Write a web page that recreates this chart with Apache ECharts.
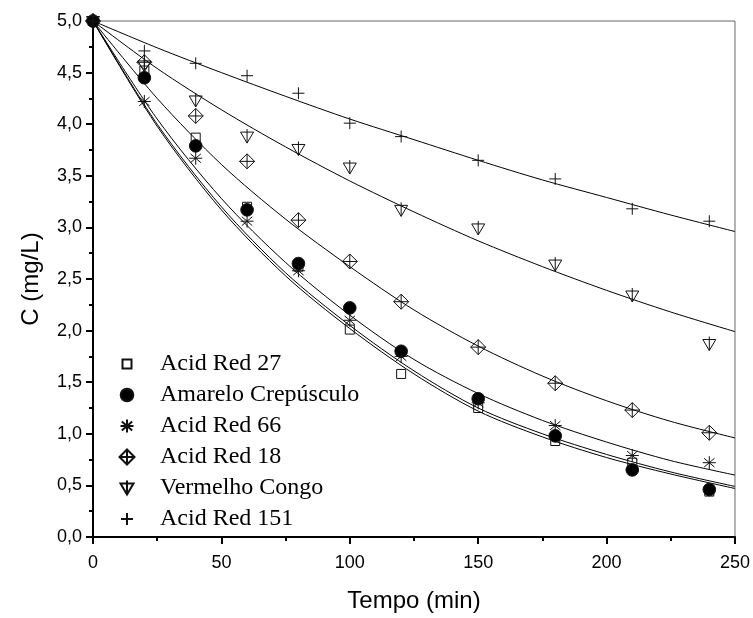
<!DOCTYPE html>
<html>
<head>
<meta charset="utf-8">
<script src="https://cdn.jsdelivr.net/npm/echarts@6/dist/echarts.min.js"></script>
<style>
  html, body { margin: 0; padding: 0; background: #fff; }
  #chart { width: 753px; height: 618px; }
</style>
</head>
<body>
<div id="chart"></div>
<script>
// Sampling times (min) of the measured concentrations
const times = [0, 20, 40, 60, 80, 100, 120, 150, 180, 210, 240];

// Measured concentrations (mg/L)
const acidRed27   = [5.00, 4.52, 3.87, 3.20, 2.62, 2.01, 1.58, 1.25, 0.93, 0.72, 0.44];
const amarelo     = [5.00, 4.45, 3.79, 3.17, 2.65, 2.22, 1.80, 1.34, 0.98, 0.65, 0.46];
const acidRed66   = [5.00, 4.22, 3.67, 3.06, 2.58, 2.10, 1.75, 1.30, 1.08, 0.79, 0.72];
const acidRed18   = [5.00, 4.60, 4.08, 3.64, 3.07, 2.67, 2.28, 1.84, 1.49, 1.23, 1.01];
const congo       = [5.00, 4.57, 4.23, 3.88, 3.76, 3.58, 3.17, 2.99, 2.64, 2.34, 1.87];
const acidRed151  = [5.00, 4.71, 4.59, 4.47, 4.30, 4.01, 3.88, 3.65, 3.47, 3.18, 3.06];

// Fitted decay curves, sampled every 25 min
const fitTimes = [0, 25, 50, 75, 100, 125, 150, 175, 200, 225, 250];
const fitAcidRed27  = [5.00, 3.98, 3.17, 2.53, 2.02, 1.58, 1.22, 0.97, 0.77, 0.61, 0.47];
const fitAmarelo    = [5.00, 4.00, 3.20, 2.56, 2.05, 1.61, 1.25, 1.00, 0.80, 0.63, 0.49];
const fitAcidRed66  = [5.00, 4.05, 3.28, 2.66, 2.15, 1.72, 1.39, 1.13, 0.92, 0.74, 0.60];
const fitAcidRed18  = [5.00, 4.25, 3.61, 3.08, 2.62, 2.20, 1.85, 1.56, 1.32, 1.12, 0.96];
const fitCongo      = [5.00, 4.54, 4.14, 3.78, 3.45, 3.15, 2.87, 2.62, 2.39, 2.18, 1.99];
const fitAcidRed151 = [5.00, 4.74, 4.50, 4.27, 4.05, 3.85, 3.65, 3.46, 3.29, 3.12, 2.96];

const seriesNames = ['Acid Red 27', 'Amarelo Crepúsculo', 'Acid Red 66',
                     'Acid Red 18', 'Vermelho Congo', 'Acid Red 151'];

const xTicks = { min: 0, max: 250, step: 50 };
const yTicks = { min: 0, max: 5, step: 0.5 };

// Marker outlines drawn in a shared 16x16 frame so every symbol keeps its own size
const FRAME = ' M0 0 M16 16';
const symbols = [
  'path://M3.5 3.5 L12.5 3.5 L12.5 12.5 L3.5 12.5 Z' + FRAME,
  'path://M1.7 8 A6.3 6.3 0 1 0 14.3 8 A6.3 6.3 0 1 0 1.7 8 Z' + FRAME,
  'path://M8 1.5 L8 14.5 M1.5 8 L14.5 8 M2.8 3.6 L13.2 12.4 M2.8 12.4 L13.2 3.6' + FRAME,
  'path://M8 0.5 L15.5 8 L8 15.5 L0.5 8 Z M8 0.5 L8 15.5 M0.5 8 L15.5 8' + FRAME,
  'path://M1.5 3.5 L14.5 3.5 L8 14.5 Z M8 0.5 L8 14.5' + FRAME,
  'path://M8 2 L8 14 M2 8 L14 8' + FRAME
];
const filled = [false, true, false, false, false, false];

const measured = [acidRed27, amarelo, acidRed66, acidRed18, congo, acidRed151];
const fitted = [fitAcidRed27, fitAmarelo, fitAcidRed66, fitAcidRed18, fitCongo, fitAcidRed151];

const pair = (xs, ys) => xs.map((x, i) => [x, ys[i]]);

const lineSeries = fitted.map((ys, i) => ({
  name: 'fit-' + i,
  type: 'line',
  data: pair(fitTimes, ys),
  showSymbol: false,
  symbol: 'none',
  smooth: 0.3,
  lineStyle: { color: '#000', width: 1 },
  silent: true,
  z: 2
}));

const scatterSeries = measured.map((ys, i) => ({
  name: seriesNames[i],
  type: 'scatter',
  data: pair(times, ys),
  symbol: symbols[i],
  symbolSize: 16,
  symbolKeepAspect: true,
  itemStyle: {
    color: filled[i] ? '#000' : 'rgba(0,0,0,0)',
    borderColor: '#111',
    borderWidth: 1,
    opacity: 1
  },
  z: 3
}));

const sans = "'Liberation Sans', Arial, sans-serif";
const serif = "'Liberation Serif', 'Times New Roman', serif";

const chart = echarts.init(document.getElementById('chart'), null, { renderer: 'canvas' });
chart.setOption({
  animation: false,
  backgroundColor: '#fff',
  grid: {
    left: 93, top: 21, right: 17, bottom: 76,
    show: true, borderColor: '#666', borderWidth: 1, backgroundColor: 'transparent'
  },
  legend: {
    data: seriesNames,
    orient: 'vertical',
    left: 113,
    top: 347,
    itemWidth: 16,
    itemHeight: 16,
    itemGap: 7,
    textStyle: { fontFamily: serif, fontSize: 24, color: '#000', padding: [0, 0, 0, 20] },
    selectedMode: false
  },
  xAxis: {
    type: 'value',
    min: xTicks.min, max: xTicks.max, interval: xTicks.step,
    name: 'Tempo (min)',
    nameLocation: 'middle',
    nameGap: 52,
    nameTextStyle: { fontFamily: sans, fontSize: 24, color: '#000' },
    axisLine: { show: true, onZero: false, lineStyle: { color: '#000', width: 2 } },
    axisTick: { show: true, inside: false, length: 7, lineStyle: { color: '#000', width: 2 } },
    minorTick: { show: true, splitNumber: 2, length: 4, lineStyle: { color: '#000', width: 2 } },
    axisLabel: { fontFamily: sans, fontSize: 18, color: '#000', margin: 17 },
    splitLine: { show: false },
    minorSplitLine: { show: false }
  },
  yAxis: {
    type: 'value',
    min: yTicks.min, max: yTicks.max, interval: yTicks.step,
    name: 'C (mg/L)',
    nameLocation: 'middle',
    nameGap: 50,
    nameTextStyle: { fontFamily: sans, fontSize: 24, color: '#000' },
    axisLine: { show: true, onZero: false, lineStyle: { color: '#000', width: 2 } },
    axisTick: { show: true, inside: false, length: 7, lineStyle: { color: '#000', width: 2 } },
    minorTick: { show: true, splitNumber: 2, length: 4, lineStyle: { color: '#000', width: 2 } },
    axisLabel: {
      fontFamily: sans, fontSize: 18, color: '#000', margin: 11,
      formatter: v => v.toFixed(1).replace('.', ',')
    },
    splitLine: { show: false },
    minorSplitLine: { show: false }
  },
  series: lineSeries.concat(scatterSeries)
});
</script>
</body>
</html>
